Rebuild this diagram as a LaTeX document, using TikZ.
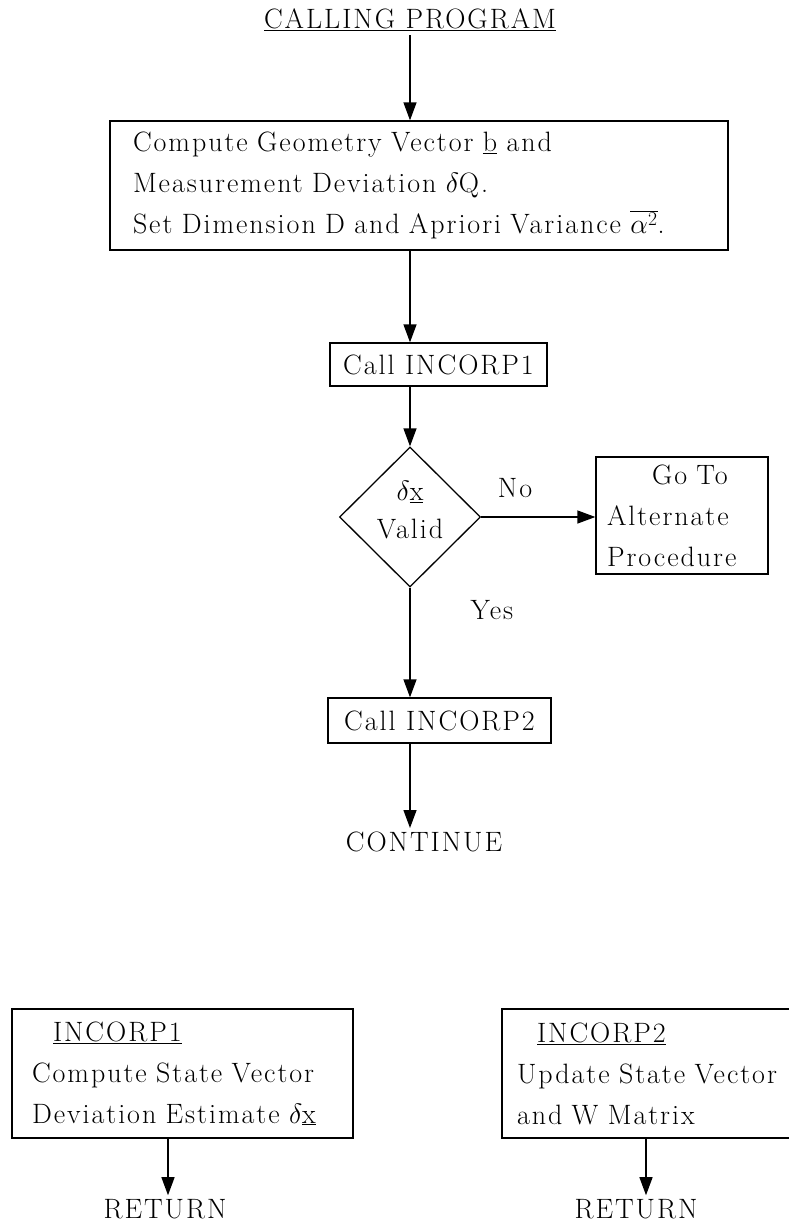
\documentclass[tikz,border=0pt]{standalone}
\usepackage{fix-cm}
\usepackage{fontspec}
\setmainfont{Latin Modern Roman}[LetterSpace=7]
\usetikzlibrary{arrows.meta,shapes.geometric}
\begin{document}
\begin{tikzpicture}[x=1pt, y=-1pt, line width=1.3pt,
    every node/.style={font=\fontsize{28}{41}\selectfont},
    box/.style={draw, align=left, inner xsep=0pt, inner ysep=0pt},
    flow/.style={-{Triangle[length=18pt,width=13pt]}}]
      \useasboundingbox (0,0) rectangle (789,1223);
      \clip (0,0) rectangle (789,1223);
      \coordinate (spine) at (410,0);
      \node (caller) at (410,20) {\underline{CALLING PROGRAM}};
      \node[box, text width=572pt, minimum width=618pt, minimum height=129pt] (geom) at (419,185.5)
        {Compute Geometry Vector \underline{b} and\\Measurement Deviation $\delta$Q.\\Set Dimension D and Apriori Variance $\overline{\alpha^{2}}$.};
      \node[box, align=center, minimum width=217pt, minimum height=43pt] (call1) at (438.5,364.5) {Call INCORP1};
      \node[draw, diamond, shape aspect=1, minimum width=141pt, minimum height=140pt, inner sep=0pt, align=center,
        font=\fontsize{28}{38}\selectfont] (valid) at (410,517) {$\delta$\underline{x}\\Valid\rule[-14pt]{0pt}{0pt}};
      \node[box, text width=150pt, minimum width=172pt, minimum height=117pt] (goto) at (682,515.5)
        {\hspace*{45pt}Go To\\Alternate\\Procedure};
      \node (no) at (515,488) {No};
      \node (yes) at (492,610) {Yes};
      \node[box, align=center, minimum width=223pt, minimum height=45pt] (call2) at (439.5,720.5) {Call INCORP2};
      \node (cont) at (424,842) {CONTINUE};
      \node[box, text width=301pt, minimum width=341pt, minimum height=129pt] (inc1) at (182.5,1073.5)
        {\hspace*{21pt}\underline{INCORP1}\\Compute State Vector\\Deviation Estimate $\delta$\underline{x}};
      \node[box, text width=280pt, minimum width=310pt, minimum height=129pt] (inc2) at (657,1073.5)
        {\hspace*{20pt}\underline{INCORP2}\\Update State Vector\\and W Matrix};
      \node (ret1) at (165,1209) {RETURN};
      \node (ret2) at (636,1209) {RETURN};
      \draw[flow] (caller.south) -- (caller.south |- geom.north);
      \draw[flow] (spine |- geom.south) -- (spine |- call1.north);
      \draw[flow] (spine |- call1.south) -- (valid.north);
      \draw[flow] (valid.east) -- (valid.east -| goto.west);
      \draw[flow] (valid.south) -- (valid.south |- call2.north);
      \draw[flow] (valid.south |- call2.south) -- (valid.south |- cont.north);
      \draw[flow] ([xshift=-14.5pt]inc1.south) -- ([xshift=-14.5pt]inc1.south |- ret1.north);
      \draw[flow] ([xshift=-11pt]inc2.south) -- ([xshift=-11pt]inc2.south |- ret2.north);
    \end{tikzpicture}
\end{document}
